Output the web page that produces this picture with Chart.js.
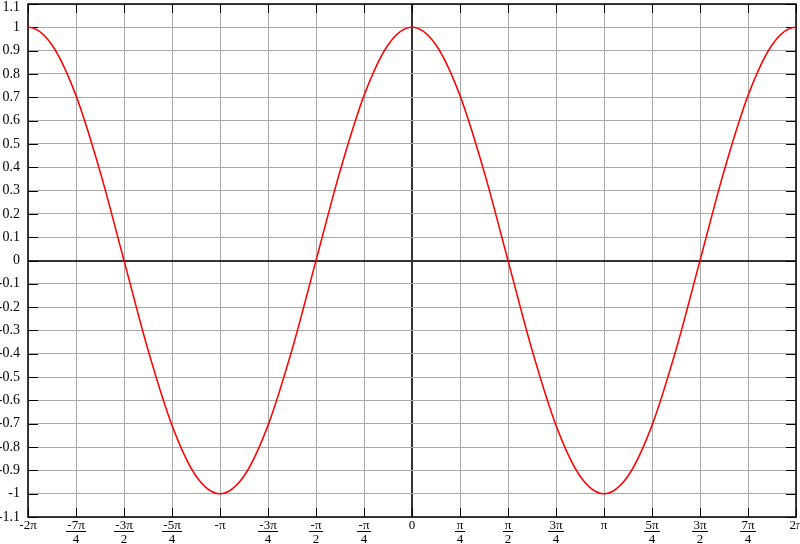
<!DOCTYPE html>
<html>
<head>
<meta charset="utf-8">
<script src="https://cdn.jsdelivr.net/npm/chart.js@4.4.1/dist/chart.umd.min.js"></script>
<style>
  html, body { margin: 0; padding: 0; background: #fff; }
</style>
</head>
<body>
<canvas id="chart" width="800" height="544"></canvas>
<script>
// x positions in multiples of pi (step pi/8), one extra point past each edge so the ends stay smooth
const xPi = [
  -2.125,
  -2, -1.875, -1.75, -1.625, -1.5, -1.375, -1.25, -1.125,
  -1, -0.875, -0.75, -0.625, -0.5, -0.375, -0.25, -0.125,
  0, 0.125, 0.25, 0.375, 0.5, 0.625, 0.75, 0.875,
  1, 1.125, 1.25, 1.375, 1.5, 1.625, 1.75, 1.875, 2,
  2.125
];
// curve values
const curveValues = [
  0.924,
  1, 0.924, 0.707, 0.383, 0, -0.383, -0.707, -0.924,
  -1, -0.924, -0.707, -0.383, 0, 0.383, 0.707, 0.924,
  1, 0.924, 0.707, 0.383, 0, -0.383, -0.707, -0.924,
  -1, -0.924, -0.707, -0.383, 0, 0.383, 0.707, 0.924, 1,
  0.924
];
// x tick labels: [numerator, denominator] for fractions
const xTickLabels = [
  ['-2π'], ['-7π', '4'], ['-3π', '2'], ['-5π', '4'], ['-π'], ['-3π', '4'], ['-π', '2'], ['-π', '4'],
  ['0'], ['π', '4'], ['π', '2'], ['3π', '4'], ['π'], ['5π', '4'], ['3π', '2'], ['7π', '4'], ['2π']
];
const yTickLabels = [
  '1.1', '1', '0.9', '0.8', '0.7', '0.6', '0.5', '0.4', '0.3', '0.2', '0.1', '0',
  '-0.1', '-0.2', '-0.3', '-0.4', '-0.5', '-0.6', '-0.7', '-0.8', '-0.9', '-1', '-1.1'
];

const isZero = v => Math.abs(v) < 1e-9;

const frame = {
  id: 'frame',
  beforeDatasetsDraw(chart) {
    const { ctx, chartArea: a, scales: { x, y } } = chart;
    ctx.save();
    ctx.strokeStyle = '#000';
    ctx.lineWidth = 1;
    ctx.beginPath();
    y.ticks.forEach(t => {
      const py = Math.round(y.getPixelForValue(t.value)) + 0.5;
      ctx.moveTo(a.left, py); ctx.lineTo(a.left + 10, py);
      ctx.moveTo(a.right - 10, py); ctx.lineTo(a.right, py);
    });
    x.ticks.forEach(t => {
      const px = Math.round(x.getPixelForValue(t.value)) + 0.5;
      ctx.moveTo(px, a.bottom - 9); ctx.lineTo(px, a.bottom);
      ctx.moveTo(px, a.top); ctx.lineTo(px, a.top + 9);
    });
    ctx.stroke();
    ctx.lineWidth = 1.5;
    ctx.strokeRect(a.left, a.top, a.right - a.left, a.bottom - a.top);
    ctx.restore();
  },
  afterDraw(chart) {
    const { ctx, chartArea: a, scales: { x, y } } = chart;
    ctx.save();
    ctx.fillStyle = '#000';
    ctx.font = '14px "Liberation Serif", serif';
    ctx.textAlign = 'right';
    ctx.textBaseline = 'middle';
    y.ticks.forEach((t, i) => {
      const py = Math.max(y.getPixelForValue(t.value), 7);
      const lbl = yTickLabels[yTickLabels.length - 1 - i];
      ctx.fillText(lbl, 20, py);
    });
    ctx.textAlign = 'center';
    ctx.textBaseline = 'alphabetic';
    ctx.font = '13px "Liberation Serif", serif';
    x.ticks.forEach((t, i) => {
      const lbl = xTickLabels[i];
      const px = x.getPixelForValue(t.value);
      ctx.fillText(lbl[0], px, a.bottom + 12);
      if (lbl.length > 1) {
        const w = ctx.measureText(lbl[0]).width + 3;
        ctx.fillRect(Math.round(px - w / 2), a.bottom + 14, Math.round(w), 1);
        ctx.fillText(lbl[1], px, a.bottom + 26);
      }
    });
    ctx.restore();
  }
};

new Chart(document.getElementById('chart'), {
  type: 'line',
  data: {
    datasets: [{
      data: xPi.map((v, i) => ({ x: v, y: curveValues[i] })),
      borderColor: '#ff0000',
      borderWidth: 1.5,
      pointRadius: 0,
      fill: false,
      cubicInterpolationMode: 'monotone'
    }]
  },
  options: {
    responsive: false,
    animation: false,
    devicePixelRatio: 1,
    layout: { padding: { top: 4, right: 4, left: 0, bottom: 0 } },
    plugins: { legend: { display: false }, tooltip: { enabled: false } },
    scales: {
      x: {
        type: 'linear',
        min: -2,
        max: 2,
        ticks: { stepSize: 0.25, display: false },
        grid: {
          drawTicks: false,
          color: c => isZero(c.tick.value) ? '#333' : '#a8a8a8',
          lineWidth: c => isZero(c.tick.value) ? 2 : 1
        },
        border: { display: false },
        afterFit: s => { s.height = 27; }
      },
      y: {
        min: -1.1,
        max: 1.1,
        ticks: { stepSize: 0.1, display: false },
        grid: {
          drawTicks: false,
          color: c => isZero(c.tick.value) ? '#333' : '#a8a8a8',
          lineWidth: c => isZero(c.tick.value) ? 2 : 1
        },
        border: { display: false },
        afterFit: s => { s.width = 28; }
      }
    }
  },
  plugins: [frame]
});
</script>
</body>
</html>
